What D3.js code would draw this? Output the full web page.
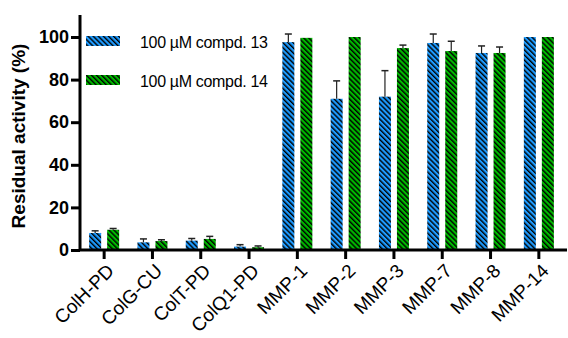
<!DOCTYPE html>
<html><head><meta charset="utf-8">
<script src="https://cdn.jsdelivr.net/npm/d3@7"></script>
<style>body{margin:0;background:#fff}svg{display:block}text{font-family:"Liberation Sans",Arial,sans-serif}</style>
</head><body><svg id="c" width="568" height="338"></svg>
<script>
const categories = ["ColH-PD","ColG-CU","ColT-PD","ColQ1-PD","MMP-1","MMP-2","MMP-3","MMP-7","MMP-8","MMP-14"];
const seriesNames = ["100 µM compd. 13","100 µM compd. 14"];
const values13 = [8.0, 3.6, 4.4, 1.6, 97.6, 71.0, 72.0, 97.2, 92.5, 100];
const err13    = [1.0, 1.6, 1.0, 0.9, 3.8, 8.4, 12.2, 4.2, 3.3, 0];
const values14 = [9.5, 4.2, 5.2, 1.3, 99.6, 100, 94.8, 93.4, 92.5, 100];
const err14    = [0.6, 0.6, 1.2, 0.6, 0, 0, 1.4, 4.6, 2.8, 0];
const yTicks = [0, 20, 40, 60, 80, 100];
const colors = ["#1E9BFF", "#00B800"];

const svg = d3.select("#c");
const x0 = 80, x1 = 563, yBase = 250;
const x = d3.scaleBand().domain(categories).range([x0, x1]).paddingInner(0).paddingOuter(0);
const y = d3.scaleLinear().domain([0, 100]).range([yBase, 37]);
const barW = 12, gap = 6;

const defs = svg.append("defs");
colors.forEach((c, i) => {
  const p = defs.append("pattern").attr("id", "h" + i).attr("patternUnits", "userSpaceOnUse")
    .attr("width", 3.6).attr("height", 3.6).attr("patternTransform", "rotate(-45)");
  p.append("rect").attr("width", 3.6).attr("height", 3.6).attr("fill", c);
  p.append("line").attr("x1", 0.7).attr("x2", 0.7).attr("y1", 0).attr("y2", 3.6)
    .attr("stroke", "#000").attr("stroke-width", 1.4);
});

const series = [values13, values14];
const errs = [err13, err14];
series.forEach((vals, si) => {
  const g = svg.append("g");
  categories.forEach((cat, i) => {
    const cx = x(cat) + x.bandwidth() / 2;
    const bx = si === 0 ? cx - gap / 2 - barW : cx + gap / 2;
    g.append("rect").attr("x", bx).attr("y", y(vals[i])).attr("width", barW)
      .attr("height", yBase - y(vals[i])).attr("fill", "url(#h" + si + ")");
    if (errs[si][i] > 0) {
      const mx = bx + barW / 2, top = y(vals[i] + errs[si][i]);
      g.append("line").attr("x1", mx).attr("x2", mx).attr("y1", y(vals[i])).attr("y2", top)
        .attr("stroke", "#222").attr("stroke-width", 1.2);
      g.append("line").attr("x1", mx - 3.5).attr("x2", mx + 3.5).attr("y1", top).attr("y2", top)
        .attr("stroke", "#222").attr("stroke-width", 1.5);
    }
  });
});

// Y axis
const yAxis = svg.append("g").attr("transform", `translate(${x0},0)`)
  .call(d3.axisLeft(y).tickValues(yTicks).tickSize(9).tickPadding(2).tickFormat(d3.format("d")));
yAxis.select(".domain").attr("d", `M0,15V${yBase}`).attr("stroke", "#000").attr("stroke-width", 3);
yAxis.selectAll(".tick line").attr("stroke", "#000").attr("stroke-width", 3);
yAxis.selectAll(".tick text").attr("font-size", 18).attr("font-weight", "bold").attr("fill", "#000")
  .attr("font-family", "Liberation Sans, Arial, sans-serif");

// X axis
const xAxis = svg.append("g").attr("transform", `translate(0,${yBase})`)
  .call(d3.axisBottom(x).tickSize(9).tickFormat(""));
xAxis.select(".domain").attr("d", `M${x0},0H567`).attr("stroke", "#000").attr("stroke-width", 3);
xAxis.selectAll(".tick line").attr("stroke", "#000").attr("stroke-width", 3);
xAxis.selectAll(".tick").append("text")
  .attr("transform", "translate(3,14) rotate(-45)")
  .attr("text-anchor", "end").attr("dy", "0.6em")
  .attr("font-size", 19).attr("fill", "#000")
  .attr("font-family", "Liberation Sans, Arial, sans-serif")
  .text(d => d);

// Y title
svg.append("text").attr("transform", "translate(25,136) rotate(-90)")
  .attr("text-anchor", "middle").attr("font-size", 19).attr("font-weight", "bold")
  .text("Residual activity (%)");

// Legend
const leg = svg.append("g");
seriesNames.forEach((n, i) => {
  const ly = 36 + i * 39;
  leg.append("rect").attr("x", 86).attr("y", ly).attr("width", 34).attr("height", 10)
    .attr("fill", "url(#h" + i + ")");
  leg.append("text").attr("x", 140).attr("y", ly + 12).attr("font-size", 16).attr("fill", "#000")
    .attr("textLength", 128).attr("lengthAdjust", "spacing")
    .text(n);
});
</script></body></html>
